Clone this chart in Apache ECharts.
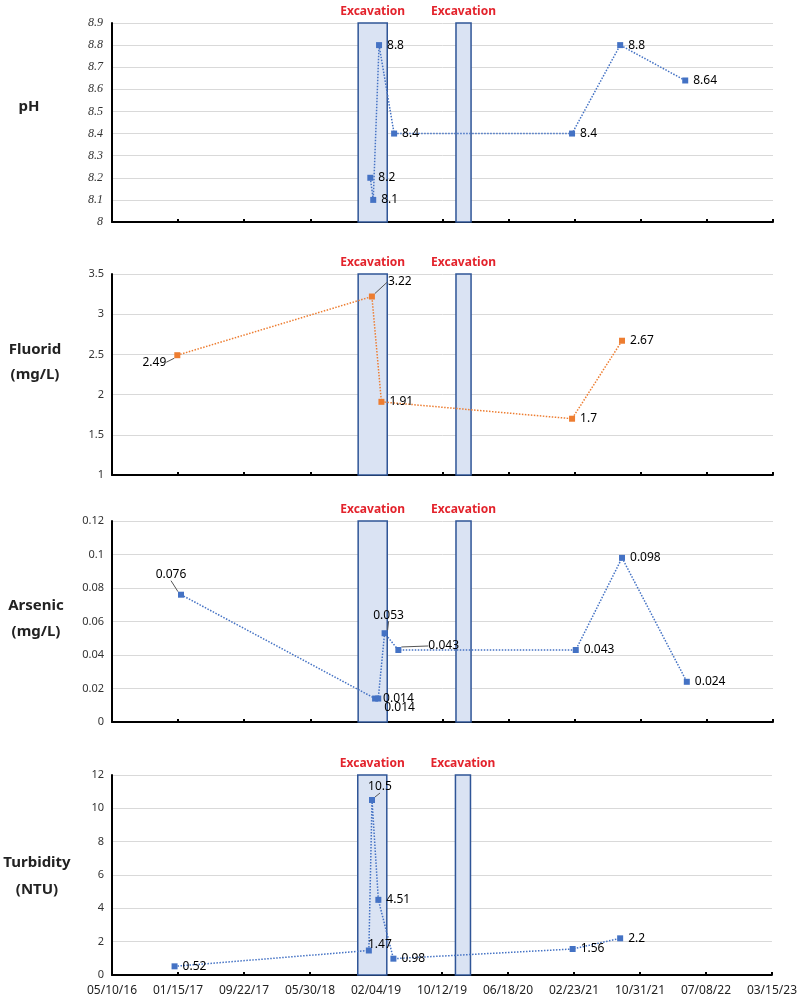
<!DOCTYPE html>
<html><head><meta charset="utf-8">
<script src="https://cdn.jsdelivr.net/npm/echarts@6/dist/echarts.min.js"></script>
<style>html,body{margin:0;padding:0;background:#fff}#c{width:800px;height:1004px}</style>
</head><body><div id="c"></div>
<script>
// ---------- data ----------
const baseDate = '2016-05-10';
const xTickLabels = ['05/10/16','01/15/17','09/22/17','05/30/18','02/04/19','10/12/19','06/18/20','02/23/21','10/31/21','07/08/22','03/15/23'];
const excavationPeriods = [['2018-11-27','2019-03-17'], ['2019-12-02','2020-01-28']];

const phDates = ['2019-01-12','2019-01-23','2019-02-14','2019-04-12','2021-02-13','2021-08-14','2022-04-17'];
const phValues = [8.2, 8.1, 8.8, 8.4, 8.4, 8.8, 8.64];

const fluoridDates = ['2017-01-12','2019-01-18','2019-02-23','2021-02-13','2021-08-21'];
const fluoridValues = [2.49, 3.22, 1.91, 1.7, 2.67];

const arsenicDates = ['2017-01-26','2019-01-30','2019-02-11','2019-03-07','2019-04-28','2021-02-27','2021-08-21','2022-04-23'];
const arsenicValues = [0.076, 0.014, 0.014, 0.053, 0.043, 0.043, 0.098, 0.024];

const turbidityDates = ['2017-01-02','2019-01-08','2019-01-20','2019-02-13','2019-04-11','2021-02-18','2021-08-17'];
const turbidityValues = [0.52, 1.47, 10.5, 4.51, 0.98, 1.56, 2.2];

// ---------- helpers ----------
function dayOf(s){
  const p = s.split('-').map(Number), b = baseDate.split('-').map(Number);
  return (Date.UTC(p[0],p[1]-1,p[2]) - Date.UTC(b[0],b[1]-1,b[2])) / 86400000;
}
const BLUE = '#4472C4', ORANGE = '#ED7D31';
const FONT = "'Noto Sans', 'Open Sans', sans-serif";

// label placement tweaks (index -> settings)
const placeFluorid = {0:{pos:'left', dx:-3, dy:7, line:true}, 1:{pos:'right', dx:8, dy:-15, line:true}};
const placeArsenic = {0:{pos:'top', dx:-10, dy:-6, line:true}, 2:{pos:'right', dx:-2, dy:9}, 3:{pos:'top', dx:4, dy:-4, line:true}, 4:{pos:'right', dx:22, dy:-4, line:true}};
const placeTurb = {1:{pos:'top', dx:11, dy:8}, 2:{pos:'top', dx:8, dy:1, line:true}};

function makeSeries(idx, dates, values, color, place){
  return {
    type:'line', xAxisIndex: idx, yAxisIndex: idx, z: 3,
    data: dates.map((d,i)=>{
      const item = {value:[dayOf(d), values[i]]};
      const p = place[i];
      if (p){ item.label = {position: p.pos}; if (p.line) item.labelLine = {show:true}; }
      return item;
    }),
    symbol:'rect', symbolSize:6,
    itemStyle:{color},
    lineStyle:{color, width:1.5, type:'dotted'},
    label:{show:true, position:'right', distance:5, color:'#000', fontSize:12, fontFamily:FONT,
           formatter: p => String(p.value[1])},
    labelLine:{show:false, lineStyle:{color:'#555', width:1}},
    labelLayout: (p) => { const q = place[p.dataIndex]; return q ? {dx:q.dx||0, dy:q.dy||0} : {}; },
    markArea:{
      silent:true,
      itemStyle:{color:'#DAE3F3', borderColor:'#2F5597', borderWidth:1.5},
      label:{show:true, position:'top', distance:5, color:'#E3232C', fontWeight:'bold', fontSize:12, fontFamily:FONT},
      data: excavationPeriods.map(p => [{name:'Excavation', xAxis: dayOf(p[0])}, {xAxis: dayOf(p[1])}])
    }
  };
}

const grids = [
  {top:23, height:199}, {top:274, height:201}, {top:521, height:201}, {top:775, height:200}
].map(g => Object.assign({left:112, right:27}, g));

const xAxes = grids.map((g,i)=>({
  type:'value', gridIndex:i, min:0, max:2500, interval:250,
  splitLine:{show:false},
  axisLine:{show:true, lineStyle:{color:'#000', width:2}},
  axisTick:{show:true, inside:true, length:3, lineStyle:{color:'#000', width:2}},
  axisLabel:{show: i===3, fontSize:12, color:'#222', fontFamily:FONT, margin:10,
             formatter: v => xTickLabels[Math.round(v/250)]}
}));

const yCfg = [[8, 8.9, 0.1], [1, 3.5, 0.5], [0, 0.12, 0.02], [0, 12, 2]];
const yAxes = yCfg.map((c,i)=>({
  type:'value', gridIndex:i, min:c[0], max:c[1], interval:c[2],
  splitLine:{show:true, lineStyle:{color:'#D9D9D9', width:1}},
  axisLine:{show:true, lineStyle:{color:'#000', width:2}},
  axisTick:{show:false},
  axisLabel: i===0
    ? {fontSize:12, color:'#333', fontFamily:"'Liberation Serif', serif", fontStyle:'italic', margin:9, formatter: v => String(parseFloat(v.toFixed(3)))}
    : {fontSize:11, color:'#333', fontFamily:FONT, margin:8, formatter: v => String(parseFloat(v.toFixed(3)))}
}));

const titleEls = [
  ['pH', 29, 107], ['Fluorid', 35, 350], ['(mg/L)', 35, 375],
  ['Arsenic', 36, 606], ['(mg/L)', 36, 632], ['Turbidity', 37, 863], ['(NTU)', 37, 890]
].map(t => ({type:'text', style:{text:t[0], x:t[1], y:t[2], fill:'#222', font:"bold 15px 'Noto Sans', sans-serif", align:'center', verticalAlign:'middle'}}));

const chart = echarts.init(document.getElementById('c'), null, {renderer:'canvas'});
chart.setOption({
  animation:false,
  backgroundColor:'#fff',
  grid: grids,
  xAxis: xAxes,
  yAxis: yAxes,
  graphic: titleEls,
  series: [
    makeSeries(0, phDates, phValues, BLUE, {}),
    makeSeries(1, fluoridDates, fluoridValues, ORANGE, placeFluorid),
    makeSeries(2, arsenicDates, arsenicValues, BLUE, placeArsenic),
    makeSeries(3, turbidityDates, turbidityValues, BLUE, placeTurb)
  ]
});
</script>
</body></html>
